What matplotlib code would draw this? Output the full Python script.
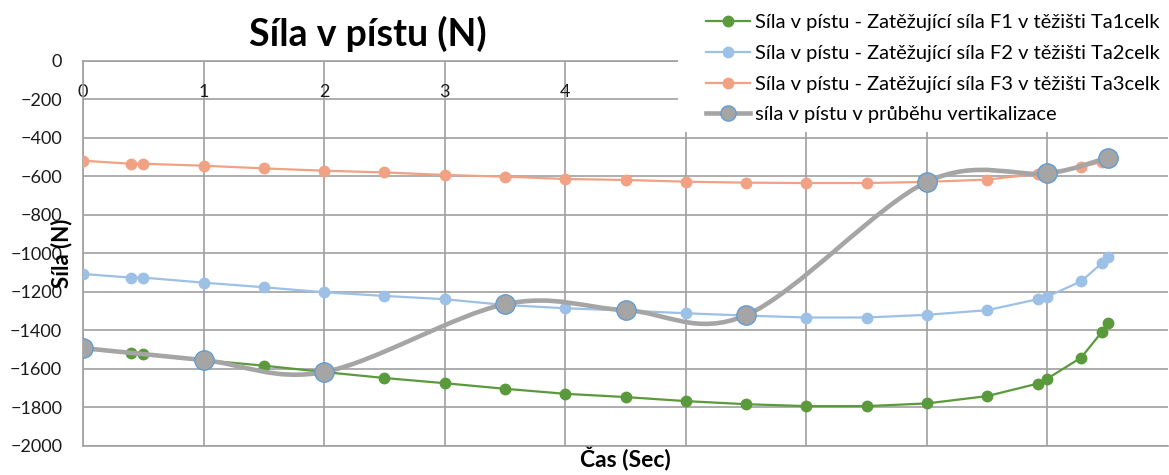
import numpy as np
import matplotlib
matplotlib.use('Agg')
import matplotlib.pyplot as plt
from matplotlib.path import Path
from matplotlib.patches import PathPatch, Rectangle
from matplotlib.lines import Line2D

plt.rcParams['font.family'] = ['Lato', 'DejaVu Sans']

# time axis shared by the three load cases
cas = [0, 0.4, 0.5, 1, 1.5, 2, 2.5, 3, 3.5, 4, 4.5, 5, 5.5, 6, 6.5, 7, 7.5,
       7.92, 8, 8.28, 8.45, 8.5]
sila_f1 = [-1490, -1516, -1524, -1554, -1583, -1616, -1647, -1674, -1703, -1729,
           -1746, -1767, -1783, -1793, -1793, -1779, -1741, -1676, -1650, -1541,
           -1409, -1362]
sila_f2 = [-1107, -1126, -1126, -1152, -1176, -1202, -1221, -1238, -1268, -1285,
           -1297, -1311, -1323, -1333, -1333, -1319, -1295, -1238, -1224, -1145,
           -1052, -1019]
sila_f3 = [-519, -535, -535, -545, -559, -571, -580, -593, -602, -614, -619,
           -628, -633, -635, -635, -629, -617, -588, -583, -552, -526, -503]

# piston force during the verticalisation move
cas_vert = [0, 1, 2, 3.5, 4.5, 5.5, 7, 8, 8.5]
sila_vert = [-1492, -1554, -1616, -1264, -1295, -1321, -629, -585, -503]

# x tick labels past 4 sit under the legend, so they stay blank
x_ticks = [0, 1, 2, 3, 4, 5, 6, 7, 8]
x_tick_labels = ['0', '1', '2', '3', '4', '', '', '', '']

labels = ['Síla v pístu - Zatěžující síla F1 v těžišti Ta1celk',
          'Síla v pístu - Zatěžující síla F2 v těžišti Ta2celk',
          'Síla v pístu - Zatěžující síla F3 v těžišti Ta3celk',
          'síla v pístu v průběhu vertikalizace']

c_f1 = '#5B9A3C'
c_f2 = '#9DC0E6'
c_f3 = '#F1A284'
c_vert = '#A5A5A5'
c_edge = '#5B9BD5'
c_grid = '#A0A0A0'


def smooth_path(x, y):
    # cubic bezier through the points (catmull-rom style tangents)
    p = np.column_stack([x, y]).astype(float)
    ext = np.vstack([p[0], p, p[-1]])
    verts = [p[0]]
    codes = [Path.MOVETO]
    for i in range(1, len(ext) - 2):
        p0, p1, p2, p3 = ext[i - 1], ext[i], ext[i + 1], ext[i + 2]
        verts += [p1 + (p2 - p0) / 6, p2 - (p3 - p1) / 6, p2]
        codes += [Path.CURVE4] * 3
    return Path(verts, codes)


fig = plt.figure(figsize=(11.69, 4.75), dpi=100)
W, H = 1169, 475
ax = fig.add_axes([83 / W, 1 - 446 / H, (1168 - 83) / W, (446 - 60.7) / H])

ax.plot(cas, sila_f1, '-o', color=c_f1, lw=1.6, ms=7.5, zorder=3)
ax.plot(cas, sila_f2, '-o', color=c_f2, lw=1.6, ms=7.5, zorder=3)
ax.plot(cas, sila_f3, '-o', color=c_f3, lw=1.6, ms=7.5, zorder=3)

ax.add_patch(PathPatch(smooth_path(cas_vert, sila_vert), fill=False,
                       edgecolor=c_vert, lw=3.3, zorder=4, capstyle='round'))
ax.plot(cas_vert, sila_vert, 'o', ms=14, mfc=c_vert, mec=c_edge, mew=0.9,
        zorder=5)

ax.set_xlim(0, 9)
ax.set_ylim(-2000, 0)
ax.set_xticks(x_ticks)
ax.set_xticklabels(x_tick_labels)
ax.set_yticks(range(-2000, 1, 200))
ax.grid(True, color=c_grid, lw=1.2)
ax.set_axisbelow(True)
for s in ['top', 'bottom', 'left']:
    ax.spines[s].set_color(c_grid)
    ax.spines[s].set_linewidth(1.2)
ax.spines['right'].set_visible(False)

ax.tick_params(axis='y', length=0, pad=15, labelsize=13, labelcolor='#1a1a1a')
ax.tick_params(axis='x', length=0, top=False, bottom=False, labeltop=True,
               labelbottom=False, pad=-28, labelsize=13, labelcolor='#1a1a1a')

ax.set_xlabel('Čas (Sec)', fontsize=16.5, fontweight='bold', labelpad=0)
ax.set_ylabel('Síla (N)', fontsize=16, fontweight='bold')
ax.yaxis.set_label_coords(-0.010, 0.5)

fig.text(368 / W, 1 - 34 / H, 'Síla v pístu (N)', ha='center', va='center',
         fontsize=27, fontweight='bold')

# white block behind the legend hides the upper grid there
fig.add_artist(Rectangle((678 / W, 1 - 132 / H), (W - 678) / W, 132 / H,
                         transform=fig.transFigure, facecolor='white',
                         edgecolor='none', zorder=4))

handles = [
    Line2D([], [], color=c_f1, lw=1.6, marker='o', ms=7.5),
    Line2D([], [], color=c_f2, lw=1.6, marker='o', ms=7.5),
    Line2D([], [], color=c_f3, lw=1.6, marker='o', ms=7.5),
    Line2D([], [], color=c_vert, lw=3.3, marker='o', ms=11, mfc=c_vert,
           mec=c_edge, mew=0.9),
]
fig.legend(handles, labels, loc='upper left', bbox_to_anchor=(706 / W, 1 - 14 / H),
           frameon=False, fontsize=14.5, handlelength=2.2, handletextpad=0.25,
           labelspacing=0.68, borderaxespad=0, borderpad=0)

fig.savefig('out.png', dpi=100)
